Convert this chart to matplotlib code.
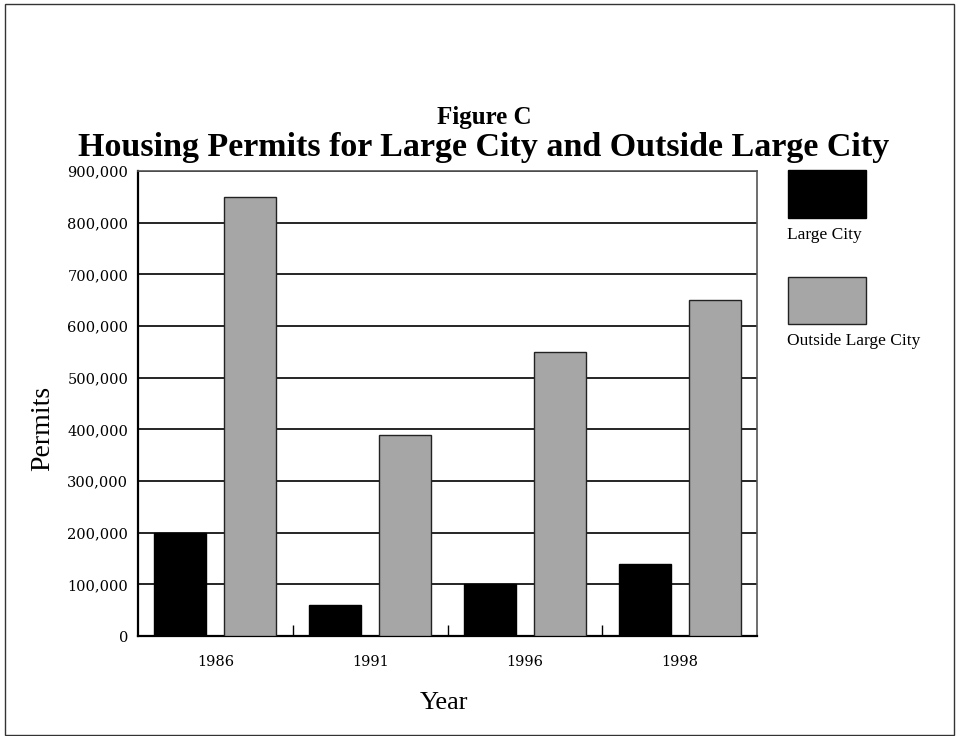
import matplotlib
matplotlib.use("Agg")
import matplotlib.pyplot as plt
from matplotlib.patches import Rectangle
import numpy as np

years = ["1986", "1991", "1996", "1998"]
large_city = [200000, 60000, 100000, 140000]
outside_large_city = [850000, 390000, 550000, 650000]
series_names = ["Large City", "Outside Large City"]
y_ticks = [0, 100000, 200000, 300000, 400000, 500000, 600000, 700000, 800000, 900000]

BLACK = "#000000"
GRAY = "#a6a6a6"
TICK_FONT = "DejaVu Serif"
TEXT_FONT = "Liberation Serif"

W, H = 958, 736
fig = plt.figure(figsize=(W / 100, H / 100), dpi=100)

def fx(px):
    return px / W

def fy(py):
    return 1 - py / H

ax = fig.add_axes([fx(138), fy(636), fx(757) - fx(138), fy(171) - fy(636)])

x = np.arange(len(years)) + 0.5
width = 0.335
off = 0.226
ax.bar(x - off, large_city, width, color=BLACK, edgecolor=BLACK, linewidth=1, zorder=3)
ax.bar(x + off, outside_large_city, width, color=GRAY, edgecolor="#222222", linewidth=1, zorder=3)

ax.set_xlim(0, len(years))
ax.set_ylim(0, 900000)
ax.set_yticks(y_ticks)
ax.set_yticklabels([f"{v:,}" for v in y_ticks], family=TICK_FONT, fontsize=10.5)
ax.set_xticks(x)
ax.set_xticklabels(years, family=TICK_FONT, fontsize=10.5)
ax.set_xticks(np.arange(1, len(years)), minor=True)
ax.tick_params(axis="x", which="major", length=0, pad=14)
ax.tick_params(axis="x", which="minor", direction="in", length=8, width=1, color=BLACK)
ax.tick_params(axis="y", length=0, pad=7)

ax.yaxis.grid(True, color=BLACK, linewidth=1.2, zorder=0)
ax.set_axisbelow(True)

for side in ("left", "bottom"):
    ax.spines[side].set_color(BLACK)
    ax.spines[side].set_linewidth(1.6)
for side in ("top", "right"):
    ax.spines[side].set_color("#555555")
    ax.spines[side].set_linewidth(1.2)

# axis titles
fig.text(fx(43), fy(428), "Permits", rotation=90, ha="center", va="center",
         family=TEXT_FONT, fontsize=20)
fig.text(fx(444), fy(703), "Year", ha="center", va="center",
         family=TEXT_FONT, fontsize=19)

fig.text(fx(484), fy(124), "Figure C", ha="center", va="baseline",
         family=TEXT_FONT, fontsize=18, fontweight="bold")
fig.text(fx(484), fy(156), "Housing Permits for Large City and Outside Large City",
         ha="center", va="baseline", family=TEXT_FONT, fontsize=24.5, fontweight="bold")

# legend: swatches with labels beneath
legend_items = [
    (series_names[0], BLACK, BLACK, 170, 218, 235),
    (series_names[1], GRAY, "#222222", 277, 324, 341),
]
for name, fc, ec, top, bottom, ty in legend_items:
    fig.add_artist(Rectangle((fx(788), fy(bottom)), fx(866) - fx(788), fy(top) - fy(bottom),
                             transform=fig.transFigure, facecolor=fc, edgecolor=ec, linewidth=1))
    fig.text(fx(787), fy(ty), name, ha="left", va="center", family=TEXT_FONT, fontsize=12.5)

# outer frame
fig.add_artist(Rectangle((fx(5), fy(735)), fx(954) - fx(5), fy(4) - fy(735),
                         transform=fig.transFigure, facecolor="none", edgecolor="#333333", linewidth=1))

fig.savefig("out.png", dpi=100)
